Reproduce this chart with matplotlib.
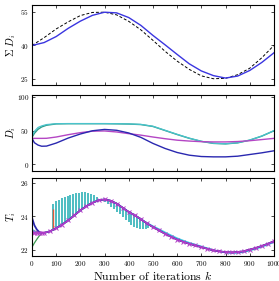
import matplotlib
matplotlib.use('Agg')
import matplotlib.pyplot as plt
import numpy as np

# === DADOS ===
# painel 1: soma das D_i
k_sum = [0, 50, 100, 150, 200, 250, 300, 350, 400, 450, 500,
         550, 600, 650, 700, 750, 800, 850, 900, 950, 1000]
sum_ref = [40, 43.5, 47.4, 50.6, 53.4, 54.8, 54.9, 53.7, 50.8, 47.0, 42.3,
           37.4, 33.0, 29.3, 26.4, 25.1, 25.3, 26.9, 29.8, 34.5, 40.0]
sum_D = [40, 41.3, 44.0, 47.7, 50.9, 53.5, 54.9, 54.6, 52.5, 49.0, 44.5,
         40.3, 36.0, 31.8, 28.6, 26.5, 25.4, 26.3, 28.8, 32.4, 36.7]

# painel 2: D_i
k_D = [0, 10, 25, 40, 60, 100, 150, 200, 250, 300, 350, 400, 450, 500,
       550, 600, 650, 700, 750, 800, 850, 900, 950, 1000]
D_cyan = [42, 49, 54.7, 57, 59, 60.3, 60.5, 60.5, 60.5, 60.5, 60.3, 60.0, 59.3, 56.5,
          50.5, 44.5, 38.8, 34.2, 31.2, 30.5, 32.0, 36.0, 42.0, 50.0]
D_teal = [40, 46, 52, 55.5, 58, 60.0, 60.3, 60.3, 60.3, 60.3, 60.1, 59.8, 59.0, 56.2,
          50.2, 44.2, 38.6, 34.0, 31.0, 30.3, 31.8, 35.8, 41.8, 49.7]
D_mag = [38.5, 38.5, 38.5, 38.5, 38.6, 40.5, 44.0, 47.0, 49.2, 49.5, 48.0, 45.5, 43.3, 40.5,
         38.0, 35.8, 34.5, 33.6, 33.2, 33.2, 33.8, 35.0, 36.7, 38.5]
D_blue = [38.5, 32, 28.5, 26.8, 27.0, 31.5, 39.0, 45.0, 49.8, 51.8, 50.5, 46.5, 40.0, 31.0,
          23.5, 17.5, 13.5, 11.5, 11.0, 11.0, 12.0, 14.5, 17.0, 20.0]

# painel 3: T_i
k_ini = [0, 10, 20, 30, 40]
T_ini_blue = [23.9, 23.45, 23.2, 23.05, 23.0]
T_ini_red = [23.1, 23.1, 23.08, 23.03, 23.0]
T_ini_gray = [23.0, 22.98, 22.97, 22.98, 23.0]
T_ini_cyan = [23.2, 23.1, 23.03, 23.0, 23.0]
T_ini_green = [22.15, 22.4, 22.62, 22.82, 22.97]
T_ini_mag = [23.05, 23.02, 23.0, 23.0, 23.0]

k_T = [50, 75, 100, 125, 150, 175, 200, 225, 250, 275, 300, 325, 350, 375,
       400, 425, 450, 475, 500, 525, 550, 575, 600, 625, 650, 675, 700, 725,
       750, 775, 800, 825, 850, 875, 900, 925, 950, 975, 1000]
T_main = [23.0, 23.1, 23.28, 23.5, 23.75, 24.05, 24.35, 24.6, 24.8, 24.95, 25.0, 24.92,
          24.75, 24.5, 24.25, 24.05, 23.82, 23.57, 23.35, 23.15, 22.95, 22.77, 22.6,
          22.47, 22.35, 22.25, 22.15, 22.05, 21.95, 21.9, 21.85, 21.83, 21.85, 21.9,
          22.0, 22.1, 22.22, 22.35, 22.5]
T_cyan_off = [0.0, 0.0, 0.0, 0.0, 0.0, 0.0, 0.0, 0.0, 0.0, 0.0, 0.0, 0.0,
              0.0, 0.0, 0.0, 0.0, 0.0, 0.02, 0.05, 0.07, 0.08, 0.08, 0.08,
              0.07, 0.06, 0.05, 0.04, 0.03, 0.02, 0.0, -0.02, -0.03, -0.04, -0.05,
              -0.05, -0.05, -0.05, -0.05, -0.05]

# barras de oscilação (ciano)
k_osc = [87, 99, 111, 123, 135, 147, 159, 171, 183, 195, 207, 219, 231, 243, 255, 267,
         279, 291, 303, 315, 327, 339, 351, 363, 375, 387, 399, 411, 423, 435, 447,
         459, 471, 480]
T_osc_base = [23.2, 23.3, 23.4, 23.5, 23.6, 23.7, 23.83, 23.96, 24.1, 24.24, 24.38,
              24.52, 24.63, 24.73, 24.82, 24.9, 24.96, 25.0, 24.98, 24.94, 24.88, 24.8,
              24.72, 24.62, 24.52, 24.4, 24.27, 24.17, 24.07, 23.97, 23.86, 23.74, 23.62,
              23.55]
T_osc_end = [24.75, 24.88, 24.98, 25.07, 25.15, 25.22, 25.28, 25.33, 25.37, 25.4, 25.42,
             25.42, 25.4, 25.35, 25.25, 25.15, 25.05, 24.98, 24.85, 24.7, 24.55, 24.4,
             24.25, 24.1, 23.95, 23.8, 23.65, 23.5, 23.35, 23.27, 23.25, 23.25, 23.25,
             23.3]

# pico vermelho
k_spike = 85
T_spike = [23.2, 24.4]

# === ESTILO ===
plt.rcParams['font.family'] = 'serif'
plt.rcParams['font.serif'] = ['cmr10', 'DejaVu Serif']
plt.rcParams['mathtext.fontset'] = 'cm'
plt.rcParams['axes.formatter.use_mathtext'] = True
plt.rcParams['axes.linewidth'] = 0.8

fig = plt.figure(figsize=(2.79, 2.81), dpi=100)
ax1 = fig.add_axes([0.1147, 0.6975, 0.867, 0.2845])
ax2 = fig.add_axes([0.1147, 0.3915, 0.867, 0.2705])
ax3 = fig.add_axes([0.1147, 0.0890, 0.867, 0.2775])

for ax in (ax1, ax2, ax3):
    ax.set_xlim(0, 1000)
    ax.set_xticks(range(0, 1001, 100))
    ax.tick_params(direction='in', top=True, right=True, length=2.5, width=0.5,
                   labelsize=5.2, pad=2)
    ax.yaxis.set_label_coords(-0.057, 0.5)

ax1.tick_params(labelbottom=False)
ax2.tick_params(labelbottom=False)

# painel 1
ax1.plot(k_sum, sum_ref, '--', color='black', lw=0.7, dashes=(3, 2))
ax1.plot(k_sum, sum_D, color='#3a35e0', lw=1.0)
ax1.set_ylim(22.3, 58.1)
ax1.set_yticks([25, 40, 55])
ax1.set_ylabel(r'$\Sigma\ D_i$', fontsize=7.5)

# painel 2
ax2.plot(k_D, D_teal, color='#2f9a86', lw=1.0)
ax2.plot(k_D, D_cyan, color='#49c3cc', lw=0.9)
ax2.plot(k_D, D_mag, color='#b446c4', lw=1.0)
ax2.plot(k_D, D_blue, color='#2a28b0', lw=1.0)
ax2.set_ylim(-10, 103)
ax2.set_yticks([0, 50, 100])
ax2.set_ylabel(r'$D_i$', fontsize=7.5)

# painel 3
T_main = np.array(T_main)
ax3.vlines(k_osc, T_osc_base, T_osc_end, color='#3fb7bd', lw=1.3)
ax3.vlines([k_spike], T_spike[0], T_spike[1], color='#e05a3a', lw=1.0)
ax3.plot(k_ini + k_T, T_ini_green + list(T_main), color='#3a9a50', lw=0.9)
ax3.plot(k_ini + k_T, T_ini_red + list(T_main), color='#e0503a', lw=0.9)
ax3.plot(k_ini + k_T, T_ini_gray + list(T_main), color='#9aa0c0', lw=0.9)
ax3.plot(k_ini + k_T, T_ini_cyan + list(T_main + np.array(T_cyan_off)),
         color='#40c8e0', lw=1.2)
ax3.plot(k_ini + k_T, T_ini_blue + list(T_main), color='#2a28b0', lw=1.3)
ax3.plot(k_ini + k_T, T_ini_mag + list(T_main), color='#b43cc8', lw=1.0,
         marker='x', markersize=2.2, markeredgewidth=0.7)
ax3.set_ylim(21.62, 26.28)
ax3.set_yticks([22, 24, 26])
ax3.set_ylabel(r'$T_i$', fontsize=7.5)
ax3.set_xlabel(r'Number of iterations $k$', fontsize=8.5, labelpad=1)

fig.savefig('out.png', dpi=100)
